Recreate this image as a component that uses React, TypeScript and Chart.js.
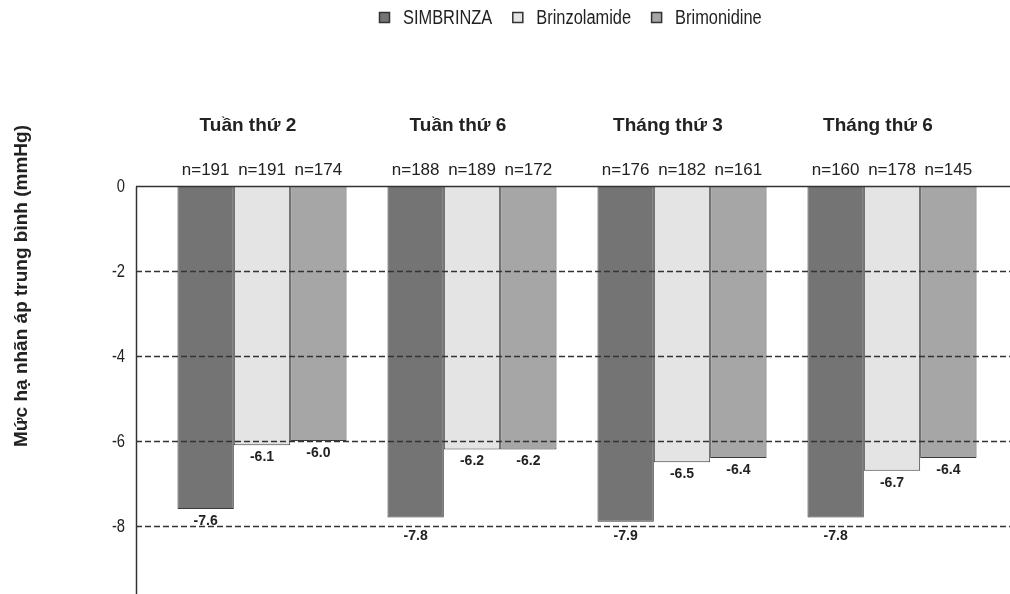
import React, { useEffect, useRef } from "react";
import { Chart, registerables } from "chart.js";

Chart.register(...registerables);

const categories = ["Tuần thứ 2", "Tuần thứ 6", "Tháng thứ 3", "Tháng thứ 6"];
const seriesNames = ["SIMBRINZA", "Brinzolamide", "Brimonidine"];
const simbrinza = [-7.6, -7.8, -7.9, -7.8];
const brinzolamide = [-6.1, -6.2, -6.5, -6.7];
const brimonidine = [-6.0, -6.2, -6.4, -6.4];
const nSimbrinza = [191, 188, 176, 160];
const nBrinzolamide = [191, 189, 182, 178];
const nBrimonidine = [174, 172, 161, 145];
const yTicks = [0, -2, -4, -6, -8];
const yTitle = "Mức hạ nhãn áp trung bình (mmHg)";

const colors = ["#747474", "#e4e4e4", "#a6a6a6"];
const FONT = "'Liberation Sans', Arial, sans-serif";
const NARROW_X = 0.82;

function narrowText(ctx: CanvasRenderingContext2D, text: string, x: number, y: number, align: CanvasTextAlign) {
  ctx.save();
  ctx.translate(x, y);
  ctx.scale(NARROW_X, 1);
  ctx.textAlign = align;
  ctx.fillText(text, 0, 0);
  ctx.restore();
}

export default function App() {
  const ref = useRef<HTMLCanvasElement | null>(null);

  useEffect(() => {
    document.body.style.margin = "0";
    const canvas = ref.current;
    if (!canvas) return;
    const nLists = [nSimbrinza, nBrinzolamide, nBrimonidine];

    const overlay = {
      id: "overlay",
      afterDatasetsDraw(chart: any) {
        const ctx = chart.ctx;
        const y = chart.scales.y;
        const x = chart.scales.x;
        const left = chart.chartArea.left - 21;
        const right = chart.width;
        const gridPx = yTicks.filter((v) => v !== 0).map((v) => Math.round(y.getPixelForValue(v)) + 0.5);
        ctx.save();
        // dashed grid lines
        ctx.strokeStyle = "#333";
        ctx.lineWidth = 1.4;
        ctx.setLineDash([6, 3]);
        gridPx.forEach((py) => {
          ctx.beginPath();
          ctx.moveTo(left, py);
          ctx.lineTo(right, py);
          ctx.stroke();
        });
        ctx.setLineDash([]);
        // zero line & axis
        const p0 = Math.round(y.getPixelForValue(0)) + 0.5;
        ctx.lineWidth = 1.5;
        ctx.beginPath();
        ctx.moveTo(left, p0);
        ctx.lineTo(right, p0);
        ctx.stroke();
        ctx.beginPath();
        ctx.moveTo(left + 0.5, p0);
        ctx.lineTo(left + 0.5, chart.chartArea.bottom);
        ctx.stroke();

        // tick labels
        ctx.fillStyle = "#222";
        ctx.font = `18px ${FONT}`;
        ctx.textBaseline = "middle";
        yTicks.forEach((v) => {
          narrowText(ctx, String(v), left - 11, y.getPixelForValue(v) + 1, "right");
        });

        // group titles
        ctx.font = `bold 19px ${FONT}`;
        ctx.textAlign = "center";
        ctx.textBaseline = "middle";
        categories.forEach((c, i) => {
          ctx.fillText(c, x.getPixelForValue(i) - 14, 126);
        });

        // n labels and value labels
        chart.data.datasets.forEach((ds: any, di: number) => {
          const meta = chart.getDatasetMeta(di);
          meta.data.forEach((bar: any, i: number) => {
            ctx.font = `17px ${FONT}`;
            ctx.textAlign = "center";
            ctx.textBaseline = "middle";
            ctx.fillStyle = "#222";
            ctx.fillText(`n=${nLists[di][i]}`, bar.x, 170);
            ctx.font = `bold 14px ${FONT}`;
            let cy = bar.y + 12;
            gridPx.forEach((g) => {
              if (bar.y > g - 12 && cy < g + 10) cy = g + 10;
            });
            ctx.fillText(ds.data[i].toFixed(1), bar.x, cy);
          });
        });

        // legend
        ctx.font = `20px ${FONT}`;
        ctx.textBaseline = "middle";
        const box = 11;
        const gapBox = 13;
        const gapItem = 20;
        const widths = seriesNames.map((s) => box + gapBox + ctx.measureText(s).width * NARROW_X);
        const total = widths.reduce((a, b) => a + b, 0) + gapItem * (widths.length - 1);
        let lx = Math.round(570 - total / 2);
        const ly = 17;
        seriesNames.forEach((s, i) => {
          ctx.fillStyle = colors[i];
          ctx.fillRect(lx, ly - 5, box, box);
          ctx.strokeStyle = "#333";
          ctx.lineWidth = 1.5;
          ctx.strokeRect(lx + 0.5, ly - 4.5, box - 1, box - 1);
          ctx.fillStyle = "#222";
          narrowText(ctx, s, lx + box + gapBox, ly + 1, "left");
          lx += widths[i] + gapItem;
        });

        // y title
        ctx.save();
        ctx.translate(22, 286);
        ctx.rotate(-Math.PI / 2);
        ctx.font = `bold 19px ${FONT}`;
        ctx.textAlign = "center";
        ctx.textBaseline = "middle";
        ctx.fillStyle = "#222";
        ctx.fillText(yTitle, 0, 0);
        ctx.restore();

        ctx.restore();
      },
    };

    const chart = new Chart(canvas, {
      type: "bar",
      data: {
        labels: categories,
        datasets: [
          { label: seriesNames[0], data: simbrinza, backgroundColor: colors[0] },
          { label: seriesNames[1], data: brinzolamide, backgroundColor: colors[1] },
          { label: seriesNames[2], data: brimonidine, backgroundColor: colors[2] },
        ].map((d) => ({
          ...d,
          borderColor: "#3a3a3a",
          borderWidth: 1,
          borderSkipped: false,
          categoryPercentage: 0.805,
          barPercentage: 1.0,
        })),
      },
      plugins: [overlay],
      options: {
        responsive: false,
        animation: false,
        layout: { padding: { left: 0, right: 13, top: 186, bottom: 0 } },
        plugins: {
          legend: { display: false },
          tooltip: { enabled: false },
        },
        scales: {
          x: { display: false },
          y: {
            min: -9.6,
            max: 0,
            afterFit: (s: any) => {
              s.width = 157;
            },
            ticks: { display: false },
            grid: { display: false },
            border: { display: false },
          },
        },
      },
    });
    return () => chart.destroy();
  }, []);

  return <canvas ref={ref} width={1010} height={594} style={{ display: "block" }} />;
}
